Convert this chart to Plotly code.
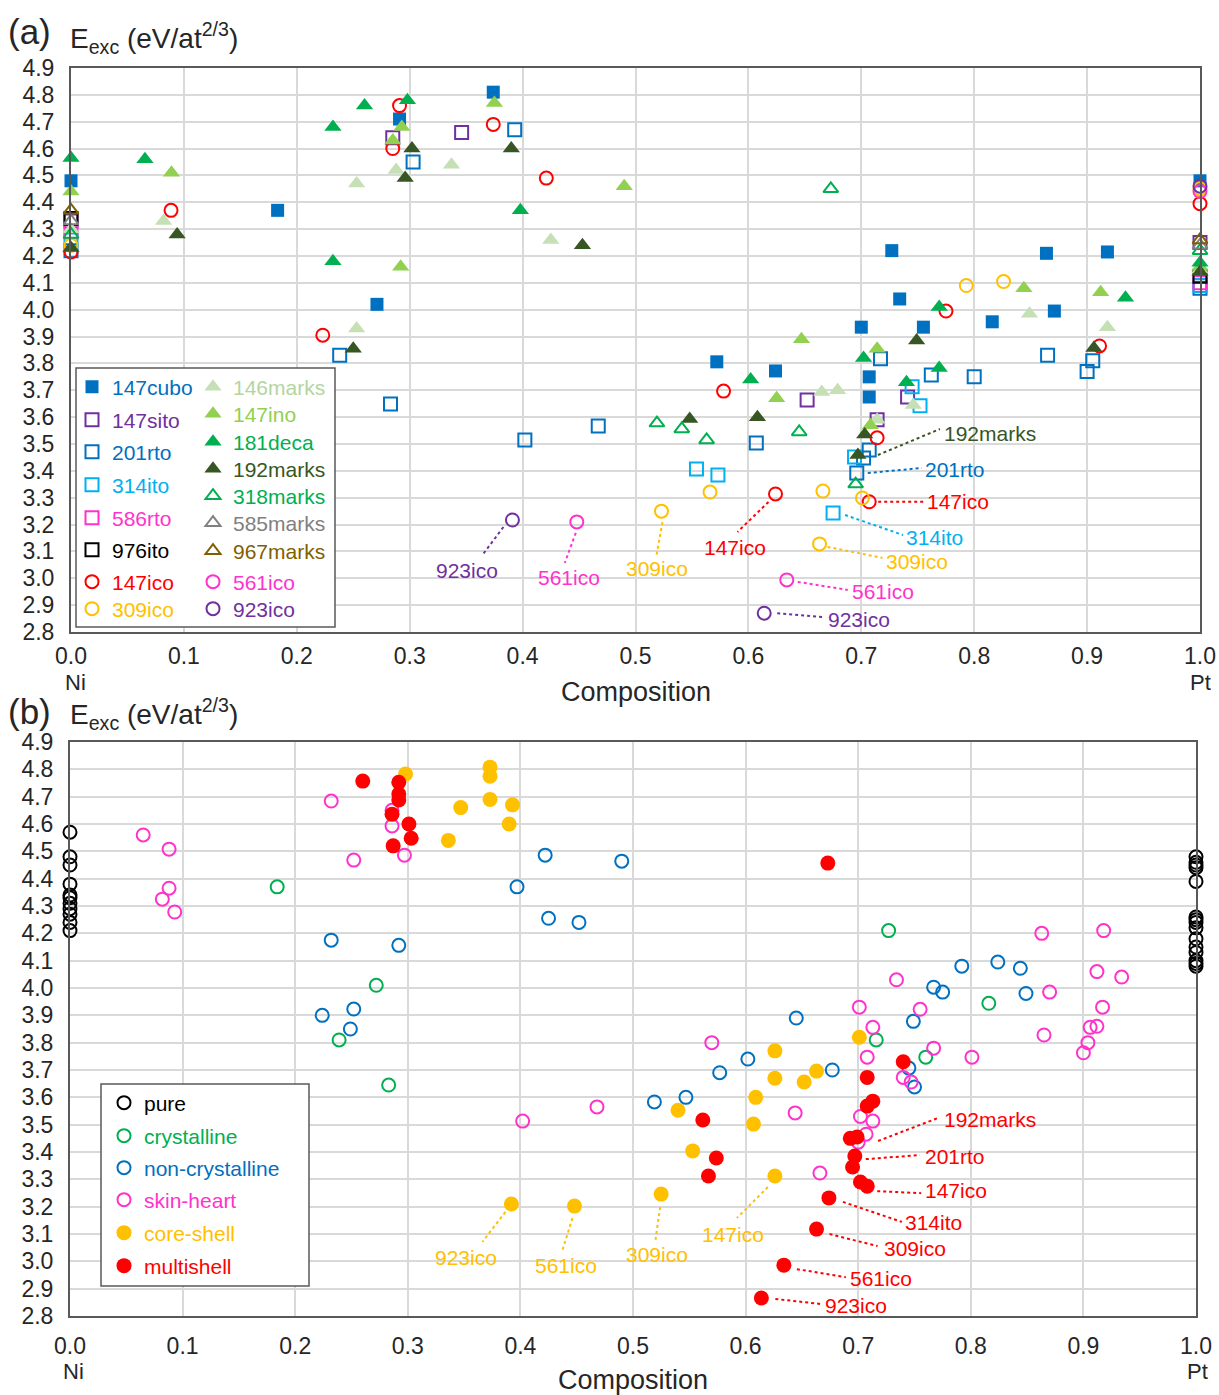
import plotly.graph_objects as go

FONT = "Liberation Sans, Arial, sans-serif"
W, H = 1219, 1395

# ---------------- Panel (a) data ----------------
CUBO147_X = [0.0, 0.183, 0.271, 0.291, 0.374, 0.572, 0.624, 0.700, 0.707, 0.707, 0.727, 0.734, 0.755, 0.816, 0.864, 0.871, 0.918, 1.0]
CUBO147_Y = [4.48, 4.37, 4.02, 4.71, 4.81, 3.806, 3.772, 3.935, 3.75, 3.675, 4.22, 4.04, 3.935, 3.955, 4.21, 3.995, 4.215, 4.48]

SITO147_X = [0.0, 0.285, 0.346, 0.652, 0.714, 0.741, 1.0]
SITO147_Y = [4.33, 4.64, 4.66, 3.664, 3.59, 3.675, 4.25]

RTO201_X = [0.0, 0.238, 0.283, 0.303, 0.393, 0.402, 0.467, 0.607, 0.696, 0.702, 0.707, 0.717, 0.762, 0.80, 0.865, 0.90, 0.905, 1.0]
RTO201_Y = [4.22, 3.83, 3.649, 4.55, 4.67, 3.515, 3.567, 3.504, 3.392, 3.448, 3.478, 3.817, 3.757, 3.75, 3.83, 3.77, 3.81, 4.08]

ITO314_X = [0.0, 0.554, 0.573, 0.675, 0.694, 0.745, 0.752, 1.0]
ITO314_Y = [4.26, 3.407, 3.385, 3.243, 3.452, 3.713, 3.642, 4.09]

RTO586_X = [0.0, 1.0]
RTO586_Y = [4.29, 4.10]

ITO976_X = [0.0, 1.0]
ITO976_Y = [4.34, 4.125]

ICO147_X = [0.0, 0.0886, 0.223, 0.285, 0.291, 0.374, 0.421, 0.578, 0.624, 0.707, 0.714, 0.775, 0.911, 1.0]
ICO147_Y = [4.215, 4.37, 3.905, 4.6, 4.76, 4.69, 4.49, 3.697, 3.314, 3.285, 3.523, 3.995, 3.865, 4.395]

ICO309_X = [0.0, 0.523, 0.566, 0.663, 0.666, 0.701, 0.793, 0.826, 1.0]
ICO309_Y = [4.24, 3.25, 3.321, 3.128, 3.325, 3.299, 4.09, 4.105, 4.45]

MARKS146_X = [0.0, 0.082, 0.253, 0.253, 0.288, 0.337, 0.425, 0.665, 0.679, 0.714, 0.746, 0.849, 0.918, 1.0]
MARKS146_Y = [4.30, 4.33, 3.93, 4.47, 4.52, 4.54, 4.26, 3.694, 3.70, 3.59, 3.645, 3.985, 3.935, 4.15]

INO147_X = [0.0, 0.089, 0.285, 0.292, 0.293, 0.375, 0.49, 0.625, 0.647, 0.708, 0.714, 0.844, 0.912, 1.0]
INO147_Y = [4.44, 4.51, 4.63, 4.16, 4.68, 4.77, 4.46, 3.67, 3.89, 3.57, 3.855, 4.08, 4.065, 4.16]

DECA181_X = [0.0, 0.0655, 0.232, 0.232, 0.26, 0.298, 0.398, 0.602, 0.702, 0.74, 0.769, 0.769, 0.934, 1.0]
DECA181_Y = [4.565, 4.56, 4.68, 4.18, 4.76, 4.78, 4.37, 3.74, 3.82, 3.73, 3.783, 4.01, 4.045, 4.175]

MARKS192_X = [0.0, 0.094, 0.25, 0.296, 0.302, 0.39, 0.453, 0.548, 0.608, 0.697, 0.703, 0.749, 0.906, 1.0]
MARKS192_Y = [4.23, 4.28, 3.855, 4.49, 4.6, 4.6, 4.24, 3.593, 3.60, 3.459, 3.535, 3.885, 3.857, 4.14]

MARKS318_X = [0.0, 0.519, 0.541, 0.563, 0.645, 0.673, 0.695, 1.0]
MARKS318_Y = [4.28, 3.578, 3.556, 3.515, 3.545, 4.45, 3.351, 4.22]

MARKS585_X = [0.0, 1.0]
MARKS585_Y = [4.33, 4.24]

MARKS967_X = [0.0, 1.0]
MARKS967_Y = [4.37, 4.26]

ICO561_X = [0.448, 0.634, 1.0]
ICO561_Y = [3.21, 2.994, 4.44]

ICO923_X = [0.391, 0.614, 1.0]
ICO923_Y = [3.217, 2.87, 4.46]

# ---------------- Panel (b) data ----------------
PURE_X = [0.0] * 11 + [1.0] * 15
PURE_Y = [4.57, 4.48, 4.45, 4.38, 4.34, 4.33, 4.31, 4.29, 4.27, 4.24, 4.21,
          4.48, 4.46, 4.45, 4.44, 4.39, 4.26, 4.25, 4.24, 4.22, 4.18, 4.15, 4.13, 4.10, 4.09, 4.08]

CRYST_X = [0.184, 0.239, 0.272, 0.283, 0.716, 0.727, 0.76, 0.816]
CRYST_Y = [4.37, 3.81, 4.01, 3.645, 3.81, 4.21, 3.747, 3.944]

NONCRYST_X = [0.224, 0.232, 0.249, 0.252, 0.292, 0.397, 0.422, 0.425, 0.452, 0.49, 0.519, 0.547, 0.577,
              0.602, 0.645, 0.677, 0.745, 0.749, 0.75, 0.767, 0.775, 0.792, 0.824, 0.844, 0.849]
NONCRYST_Y = [3.9, 4.175, 3.85, 3.923, 4.156, 4.37, 4.486, 4.255, 4.24, 4.464, 3.583, 3.6, 3.69,
              3.74, 3.89, 3.7, 3.707, 3.878, 3.638, 4.003, 3.985, 4.08, 4.095, 4.072, 3.98]

SKIN_X = [0.065, 0.082, 0.088, 0.088, 0.093, 0.232, 0.252, 0.286, 0.286, 0.297, 0.402, 0.468, 0.57, 0.644,
          0.666, 0.7, 0.701, 0.702, 0.707, 0.708, 0.713, 0.713, 0.734, 0.74, 0.747, 0.755, 0.767, 0.801,
          0.863, 0.865, 0.87, 0.9, 0.904, 0.906, 0.912, 0.912, 0.917, 0.918, 0.934]
SKIN_Y = [4.56, 4.325, 4.508, 4.365, 4.278, 4.684, 4.468, 4.65, 4.593, 4.486, 3.513, 3.565, 3.80, 3.543,
          3.323, 3.436, 3.93, 3.53, 3.465, 3.747, 3.856, 3.513, 4.03, 3.673, 3.656, 3.922, 3.78, 3.747,
          4.2, 3.828, 3.985, 3.763, 3.8, 3.856, 3.86, 4.06, 3.93, 4.21, 4.04]

CORE_X = [0.298, 0.336, 0.347, 0.373, 0.373, 0.373, 0.39, 0.392, 0.393, 0.448, 0.525, 0.54, 0.553,
          0.607, 0.609, 0.626, 0.626, 0.626, 0.652, 0.663, 0.701]
CORE_Y = [4.783, 4.54, 4.66, 4.808, 4.775, 4.69, 4.6, 3.21, 4.67, 3.202, 3.246, 3.553, 3.404,
          3.502, 3.6, 3.77, 3.67, 3.312, 3.656, 3.696, 3.82]

MULTI_X = [0.26, 0.286, 0.287, 0.292, 0.292, 0.292, 0.301, 0.303, 0.562, 0.567, 0.574, 0.614, 0.634,
           0.663, 0.673, 0.674, 0.693, 0.695, 0.697, 0.699, 0.702, 0.708, 0.708, 0.708, 0.713, 0.74]
MULTI_Y = [4.757, 4.636, 4.52, 4.753, 4.71, 4.688, 4.6, 4.548, 3.517, 3.312, 3.378, 2.866, 2.986,
           3.118, 4.457, 3.232, 3.45, 3.345, 3.385, 3.455, 3.29, 3.275, 3.673, 3.568, 3.586, 3.73]

X_TICKS = [0.0, 0.1, 0.2, 0.3, 0.4, 0.5, 0.6, 0.7, 0.8, 0.9, 1.0]
X_TICK_LABELS = ["0.0", "0.1", "0.2", "0.3", "0.4", "0.5", "0.6", "0.7", "0.8", "0.9", "1.0"]

# ---------------- styles ----------------
C_BLUE = "#0070C0"
C_PURPLE = "#7030A0"
C_CYAN = "#00B0F0"
C_PINK = "#FF33CC"
C_RED = "#FF0000"
C_GOLD = "#FFC000"
C_PALE = "#C5E0B4"
C_LIME = "#92D050"
C_GREEN = "#00B050"
C_DARK = "#375623"
C_GREY = "#808080"
C_BROWN = "#7F6000"


def px2x(p):
    return p / W


def px2y(p):
    return 1 - p / H


fig = go.Figure()
legends = {}
_count = [0]


def add(xs, ys, name, symbol, color, size, leg_x, leg_y, xa="x", ya="y", textcolor=None):
    _count[0] += 1
    key = "legend" if _count[0] == 1 else f"legend{_count[0]}"
    open_ = symbol.endswith("open")
    marker = dict(symbol=symbol, size=size, color=color,
                  line=dict(width=2 if open_ else 0, color=color))
    fig.add_trace(go.Scatter(
        x=xs, y=ys, mode="markers", marker=marker, xaxis=xa, yaxis=ya,
        name=f"<span style='color:{textcolor or color}'>{name}</span>",
        legend=key, cliponaxis=False, showlegend=True))
    legends[key] = dict(x=px2x(leg_x - 20), y=px2y(leg_y), xanchor="left", yanchor="middle",
                        bgcolor="rgba(0,0,0,0)", borderwidth=0, itemclick=False,
                        font=dict(family=FONT, size=21))


A1, A2, B1 = 92, 213, 124
# legend column 1 (a)
add(CUBO147_X, CUBO147_Y, "147cubo", "square", C_BLUE, 13, A1, 387)
add(SITO147_X, SITO147_Y, "147sito", "square-open", C_PURPLE, 13, A1, 420)
add(RTO201_X, RTO201_Y, "201rto", "square-open", C_BLUE, 13, A1, 452)
add(ITO314_X, ITO314_Y, "314ito", "square-open", C_CYAN, 13, A1, 485)
add(RTO586_X, RTO586_Y, "586rto", "square-open", C_PINK, 13, A1, 518)
add(ITO976_X, ITO976_Y, "976ito", "square-open", "#000000", 13, A1, 550)
add(ICO147_X, ICO147_Y, "147ico", "circle-open", C_RED, 13, A1, 582)
add(ICO309_X, ICO309_Y, "309ico", "circle-open", C_GOLD, 13, A1, 609)
# legend column 2 (a)
add(MARKS146_X, MARKS146_Y, "146marks", "triangle-up", C_PALE, 15, A2, 387, textcolor="#B4D5A0")
add(INO147_X, INO147_Y, "147ino", "triangle-up", C_LIME, 15, A2, 414)
add(DECA181_X, DECA181_Y, "181deca", "triangle-up", C_GREEN, 15, A2, 442)
add(MARKS192_X, MARKS192_Y, "192marks", "triangle-up", C_DARK, 15, A2, 469)
add(MARKS318_X, MARKS318_Y, "318marks", "triangle-up-open", C_GREEN, 13, A2, 496)
add(MARKS585_X, MARKS585_Y, "585marks", "triangle-up-open", C_GREY, 13, A2, 523)
add(MARKS967_X, MARKS967_Y, "967marks", "triangle-up-open", C_BROWN, 13, A2, 551)
add(ICO561_X, ICO561_Y, "561ico", "circle-open", C_PINK, 13, A2, 582)
add(ICO923_X, ICO923_Y, "923ico", "circle-open", C_PURPLE, 13, A2, 609)

# panel (b)
add(PURE_X, PURE_Y, "pure", "circle-open", "#000000", 13, B1, 1103, "x2", "y2")
add(CRYST_X, CRYST_Y, "crystalline", "circle-open", C_GREEN, 13, B1, 1136, "x2", "y2")
add(NONCRYST_X, NONCRYST_Y, "non-crystalline", "circle-open", C_BLUE, 13, B1, 1168, "x2", "y2")
add(SKIN_X, SKIN_Y, "skin-heart", "circle-open", C_PINK, 13, B1, 1200, "x2", "y2")
add(CORE_X, CORE_Y, "core-shell", "circle", C_GOLD, 15, B1, 1233, "x2", "y2")
add(MULTI_X, MULTI_Y, "multishell", "circle", C_RED, 15, B1, 1266, "x2", "y2")

# ---------------- label annotations with dotted leaders ----------------
LABELS = [
    ("", ICO923_X[0], ICO923_Y[0], "923ico", C_PURPLE, -45, -50, "center", -9, -7, -30, -35),
    ("", ICO561_X[0], ICO561_Y[0], "561ico", C_PINK, -8, -56, "center", -1, -11, -12, -41),
    ("", ICO309_X[1], ICO309_Y[1], "309ico", C_GOLD, -4, -57, "center", 1, -11, -5, -44),
    ("", ICO147_X[8], ICO147_Y[8], "147ico", C_RED, -41, -54, "center", -7, -8, -38, -38),
    ("", MARKS192_X[9], MARKS192_Y[9], "192marks", C_DARK, 84, 22, "left", 20, 0, 82, 26),
    ("", RTO201_X[8], RTO201_Y[8], "201rto", C_BLUE, 66, 4, "left", 11, 0, 65, 5),
    ("", ICO147_X[9], ICO147_Y[9], "147ico", C_RED, 56, 0, "left", 9, 0, 54, 0),
    ("", ITO314_X[3], ITO314_Y[3], "314ito", C_CYAN, 71, -24, "left", 12, -2, 70, -22),
    ("", ICO309_X[3], ICO309_Y[3], "309ico", C_GOLD, 64, -18, "left", 8, -3, 63, -14),
    ("", ICO561_X[1], ICO561_Y[1], "561ico", C_PINK, 63, -12, "left", 11, -2, 61, -10),
    ("", ICO923_X[1], ICO923_Y[1], "923ico", C_PURPLE, 62, -6, "left", 13, 0, 59, -4),
    ("2", CORE_X[7], CORE_Y[7], "923ico", C_GOLD, -45, -54, "center", -6, -8, -29, -38),
    ("2", CORE_X[9], CORE_Y[9], "561ico", C_GOLD, -8, -59, "center", -2, -12, -12, -44),
    ("2", CORE_X[10], CORE_Y[10], "309ico", C_GOLD, -4, -60, "center", -1, -13, -6, -48),
    ("2", CORE_X[17], CORE_Y[17], "147ico", C_GOLD, -42, -58, "center", -7, -11, -38, -42),
    ("2", MULTI_X[19], MULTI_Y[19], "192marks", C_RED, 85, 17, "left", 21, -4, 81, 19),
    ("2", MULTI_X[18], MULTI_Y[18], "201rto", C_RED, 68, 0, "left", 11, -3, 65, 1),
    ("2", MULTI_X[21], MULTI_Y[21], "147ico", C_RED, 56, -4, "left", 10, -5, 54, -7),
    ("2", MULTI_X[15], MULTI_Y[15], "314ito", C_RED, 74, -25, "left", 14, -4, 73, -24),
    ("2", MULTI_X[13], MULTI_Y[13], "309ico", C_RED, 65, -19, "left", 13, -5, 61, -17),
    ("2", MULTI_X[12], MULTI_Y[12], "561ico", C_RED, 64, -13, "left", 13, -4, 62, -12),
    ("2", MULTI_X[11], MULTI_Y[11], "923ico", C_RED, 62, -8, "left", 14, -1, 59, -6),
]

annotations = []
shapes = []
for ax, px, py, txt, col, tdx, tdy, anc, lx0, ly0, lx1, ly1 in LABELS:
    annotations.append(dict(x=px, y=py, xref="x" + ax, yref="y" + ax, text=txt, showarrow=False,
                            xshift=tdx, yshift=tdy, xanchor=anc, yanchor="middle",
                            font=dict(family=FONT, size=21, color=col)))
    shapes.append(dict(type="line", xref="x" + ax, yref="y" + ax, xsizemode="pixel", ysizemode="pixel",
                       xanchor=px, yanchor=py, x0=lx0, y0=ly0, x1=lx1, y1=ly1,
                       line=dict(color=col, width=2, dash="dot"), layer="above"))

# legend boxes
shapes.append(dict(type="rect", xref="paper", yref="paper", x0=px2x(76), x1=px2x(335),
                   y0=px2y(627), y1=px2y(368), line=dict(color="#595959", width=1.5),
                   fillcolor="white", layer="above"))
shapes.append(dict(type="rect", xref="paper", yref="paper", x0=px2x(101), x1=px2x(309),
                   y0=px2y(1286), y1=px2y(1084), line=dict(color="#595959", width=1.5),
                   fillcolor="white", layer="above"))

TXT = "#262626"
for lab, yc in (("(a)", 31), ("(b)", 711)):
    annotations.append(dict(x=px2x(6), y=px2y(yc), xref="paper", yref="paper", text=lab,
                            showarrow=False, xanchor="left", yanchor="middle",
                            font=dict(family=FONT, size=35, color=TXT)))
for yc in (38, 714):
    annotations.append(dict(x=px2x(68), y=px2y(yc), xref="paper", yref="paper",
                            text="E<sub>exc</sub> (eV/at<sup>2/3</sup>)",
                            showarrow=False, xanchor="left", yanchor="middle",
                            font=dict(family=FONT, size=28, color=TXT)))
for xc, yc in ((636, 692), (633, 1380)):
    annotations.append(dict(x=px2x(xc), y=px2y(yc), xref="paper", yref="paper", text="Composition",
                            showarrow=False, xanchor="center", yanchor="middle",
                            font=dict(family=FONT, size=27, color=TXT)))
for txt, xc, yc in (("Ni", 75, 682), ("Pt", 1200, 682), ("Ni", 73, 1371), ("Pt", 1197, 1371)):
    annotations.append(dict(x=px2x(xc), y=px2y(yc), xref="paper", yref="paper", text=txt,
                            showarrow=False, xanchor="center", yanchor="middle",
                            font=dict(family=FONT, size=22, color=TXT)))

GRID = "#D9D9D9"
LINE = "#595959"


def xax(domain, anchor, standoff):
    return dict(domain=domain, anchor=anchor, range=[0, 1], tickvals=X_TICKS, ticktext=X_TICK_LABELS,
                showgrid=True, gridcolor=GRID, gridwidth=2, zeroline=False, automargin=False,
                showline=True, linecolor=LINE, linewidth=2, mirror=True, ticks="",
                ticklabelstandoff=standoff, tickfont=dict(family=FONT, size=23, color=TXT))


def yax(domain, anchor):
    return dict(domain=domain, anchor=anchor, range=[2.8, 4.9], dtick=0.1, tick0=2.8, tickformat=".1f",
                showgrid=True, gridcolor=GRID, gridwidth=2, zeroline=False, automargin=False,
                showline=True, linecolor=LINE, linewidth=2, mirror=True, ticks="",
                ticklabelstandoff=10, tickfont=dict(family=FONT, size=23, color=TXT))


fig.update_layout(
    width=W, height=H, margin=dict(l=0, r=0, t=0, b=0, autoexpand=False),
    paper_bgcolor="white", plot_bgcolor="white",
    xaxis=xax([px2x(71), px2x(1200)], "y", 2),
    yaxis=yax([px2y(632), px2y(68)], "x"),
    xaxis2=xax([px2x(70), px2x(1196)], "y2", 8),
    yaxis2=yax([px2y(1316), px2y(742)], "x2"),
    annotations=annotations, shapes=shapes, showlegend=True, hovermode=False,
    **legends,
)

# remove the page's default body margin so the figure fills the window exactly
fig.write_html("out.html", config={"displayModeBar": False},
               post_script="document.body.style.margin='0px';"
                           "document.documentElement.style.overflow='hidden';")
